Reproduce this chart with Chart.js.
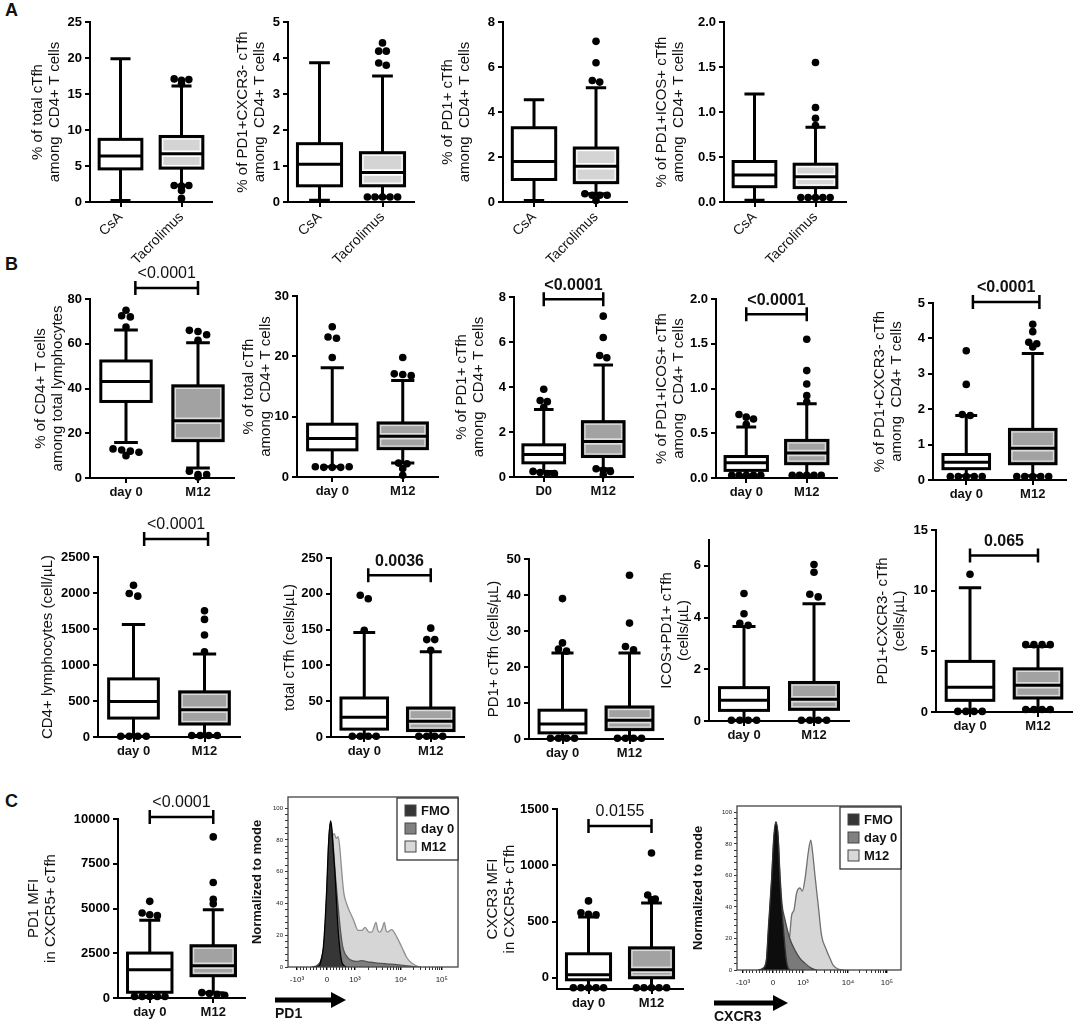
<!DOCTYPE html>
<html>
<head>
<meta charset="utf-8">
<script src="https://cdn.jsdelivr.net/npm/chart.js@4.4.0/dist/chart.umd.min.js"></script>
<style>
body{margin:0;background:#fff;width:1084px;height:1025px;position:relative;overflow:hidden;font-family:'Liberation Sans',Arial,sans-serif}
canvas{position:absolute}
.lab{position:absolute;font-weight:bold;font-size:18px;line-height:18px;color:#111}
</style>
</head>
<body>
<div class="lab" style="left:5px;top:1px">A</div>
<div class="lab" style="left:5px;top:255px">B</div>
<div class="lab" style="left:5px;top:792px">C</div>
<script>
//------------------ DATOS ------------------
// box stats are [min, q1, median, q3, max]
const catsA = ['CsA', 'Tacrolimus'];
const catsB = ['day 0', 'M12'];
const catsD0 = ['D0', 'M12'];

// A - CsA vs Tacrolimus
const a1Stats = [[0.2, 4.6, 6.4, 8.7, 19.9], [2.3, 4.7, 6.7, 9.1, 16.1]];
const a1Out = [[], [17.1, 16.9, 17.0, 16.4, 2.3, 2.2, 2.3, 1.6, 0.5]];
const a1Ticks = [0, 5, 10, 15, 20, 25];

const a2Stats = [[0.05, 0.45, 1.05, 1.62, 3.87], [0.14, 0.45, 0.82, 1.37, 3.5]];
const a2Out = [[], [4.42, 4.19, 4.19, 3.86, 3.8, 0.14, 0.14, 0.14, 0.14, 0.14]];
const a2Ticks = [0, 1, 2, 3, 4, 5];

const a3Stats = [[0.07, 1.0, 1.8, 3.3, 4.55], [0.37, 0.86, 1.59, 2.4, 5.08]];
const a3Out = [[], [7.14, 6.19, 5.4, 5.33, 0.37, 0.3, 0.3, 0.3, 0.07]];
const a3Ticks = [0, 2, 4, 6, 8];

const a4Stats = [[0.02, 0.17, 0.3, 0.45, 1.2], [0.05, 0.16, 0.28, 0.42, 0.83]];
const a4Out = [[], [1.55, 1.05, 0.93, 0.85, 0.05, 0.05, 0.05, 0.05, 0.05]];
const a4Ticks = [0, 0.5, 1.0, 1.5, 2.0];

// B - day 0 vs M12, frequencies
const b1Stats = [[15.9, 34.2, 43.1, 52.3, 66.2], [4.5, 16.7, 25.6, 41.2, 60.5]];
const b1Out = [[75, 72.5, 72, 67.5, 13, 12.5, 12, 11.5, 10], [66, 65.5, 64, 61.5, 3, 1.5, 1.5, 0.5]];
const b1Ticks = [0, 20, 40, 60, 80];

const b2Stats = [[1.7, 4.5, 6.4, 8.75, 18.1], [2.3, 4.7, 6.75, 8.96, 16.0]];
const b2Out = [[24.9, 23.2, 23.0, 19.8, 1.7, 1.6, 1.6, 1.6, 1.7], [19.8, 17.1, 17.0, 16.8, 2.3, 2.2, 1.4, 0.3]];
const b2Ticks = [0, 10, 20, 30];

const b3Stats = [[0.25, 0.63, 1.0, 1.43, 3.0], [0.37, 0.91, 1.58, 2.46, 4.98]];
const b3Out = [[3.9, 3.4, 3.35, 3.1, 0.25, 0.2, 0.15, 0.15], [7.15, 6.2, 5.4, 5.3, 0.37, 0.3, 0.25, 0.1]];
const b3Ticks = [0, 2, 4, 6, 8];

const b4Stats = [[0.03, 0.085, 0.17, 0.24, 0.57], [0.03, 0.16, 0.28, 0.42, 0.83]];
const b4Out = [[0.71, 0.68, 0.66, 0.6, 0.03, 0.03, 0.03, 0.03, 0.03], [1.55, 1.2, 1.05, 0.92, 0.85, 0.03, 0.03, 0.03, 0.03, 0.03]];
const b4Ticks = [0, 0.5, 1.0, 1.5, 2.0];

const b5Stats = [[0.12, 0.32, 0.5, 0.72, 1.82], [0.12, 0.46, 0.9, 1.43, 3.57]];
const b5Out = [[3.65, 2.7, 1.85, 1.82, 0.1, 0.1, 0.1, 0.1, 0.1], [4.4, 4.19, 3.89, 3.85, 3.76, 0.1, 0.1, 0.1, 0.1, 0.1]];
const b5Ticks = [0, 1, 2, 3, 4, 5];

// B - day 0 vs M12, absolute counts
const b6Stats = [[10, 263, 494, 807, 1564], [20, 180, 378, 627, 1153]];
const b6Out = [[2108, 1993, 1956, 10, 10, 10, 10], [1753, 1633, 1416, 1185, 20, 20, 20, 20]];
const b6Ticks = [0, 500, 1000, 1500, 2000, 2500];

const b7Stats = [[1, 11, 27.5, 54.5, 146], [1, 9, 22, 40.5, 119]];
const b7Out = [[198, 193, 149, 1, 1, 1, 1], [152, 136, 136, 121, 1, 1, 1, 1]];
const b7Ticks = [0, 50, 100, 150, 200, 250];

const b8Stats = [[0.2, 1.7, 4.2, 8.0, 23.9], [0.2, 2.6, 5.2, 8.9, 23.9]];
const b8Out = [[39, 26.7, 25, 24.4, 0.2, 0.2, 0.2, 0.2], [45.5, 32.2, 25.7, 24.8, 0.2, 0.2, 0.2, 0.2]];
const b8Ticks = [0, 10, 20, 30, 40, 50];

const b9Stats = [[0.03, 0.41, 0.8, 1.29, 3.65], [0.03, 0.45, 0.84, 1.49, 4.53]];
const b9Out = [[4.93, 4.15, 3.78, 3.7, 0.03, 0.03, 0.03, 0.03], [6.05, 5.75, 4.9, 4.8, 0.03, 0.03, 0.03, 0.03]];
const b9Ticks = [0, 2, 4, 6];

const b10Stats = [[0.05, 0.96, 2.05, 4.17, 10.25], [0.2, 1.15, 2.2, 3.56, 5.4]];
const b10Out = [[11.35, 0.05, 0.05, 0.05, 0.05], [5.55, 5.55, 5.55, 5.55, 0.2, 0.2, 0.2, 0.2]];
const b10Ticks = [0, 5, 10, 15];

// C - MFI
const c1Stats = [[80, 320, 1580, 2510, 4350], [300, 1245, 1800, 2920, 4925]];
const c1Out = [[5400, 4750, 4650, 4600, 80, 80, 80, 80, 80], [9000, 6450, 5520, 5260, 300, 250, 200, 150]];
const c1Ticks = [0, 2500, 5000, 7500, 10000];

const c3Stats = [[-89, -18, 27, 213, 541], [-89, 0, 71, 266, 665]];
const c3Out = [[683, 577, 565, 560, -89, -89, -89, -89, -89], [1109, 736, 700, 692, -89, -89, -89, -89, -89]];
const c3Ticks = [0, 500, 1000, 1500];

// C - histograms (x in display channel units, y in % of mode)
const histNames = ['FMO', 'day 0', 'M12'];
const histMarkers = ['PD1', 'CXCR3'];
const histTickLabels = ['-10³', '0', '10³', '10⁴', '10⁵'];
const pd1TickPos = [-1.07, 0, 1, 2.64, 4.1];
const cx3TickPos = [-1.0, 0, 1, 2.5, 3.8];
const histYTicks = [0, 20, 40, 60, 80, 100];

const pd1FmoX = [-0.45, -0.27, -0.2, -0.13, -0.06, -0.01, 0.05, 0.1, 0.13, 0.17, 0.22, 0.29, 0.35, 0.405, 0.47, 0.525, 0.6, 0.7];
const pd1FmoY = [0, 1, 5, 12, 30, 48, 75, 88, 92, 88, 75, 58, 38, 22, 10, 3.6, 1, 0];
const pd1D0X = [-0.55, -0.35, -0.2, -0.1, 0, 0.08, 0.13, 0.2, 0.3, 0.4, 0.46, 0.55, 0.64, 0.76, 0.9, 1.05, 1.24, 1.54, 1.8, 2.13, 2.5, 2.73, 3.08, 3.2];
const pd1D0Y = [0, 1, 5, 15, 48, 84, 90, 82, 58, 38, 27, 14, 8.6, 5.5, 4, 3.5, 4, 3, 2.5, 2, 1.5, 1, 0.3, 0];
const pd1M12X = [-0.5, -0.3, -0.15, -0.05, 0.05, 0.12, 0.2, 0.26, 0.33, 0.4, 0.46, 0.52, 0.6, 0.7, 0.94, 1.12, 1.25, 1.36, 1.5, 1.6, 1.68, 1.75, 1.82, 1.89, 1.97, 2.05, 2.11, 2.17, 2.31, 2.49, 2.67, 2.85, 3.02, 3.26, 3.35];
const pd1M12Y = [0, 1, 6, 20, 50, 72, 82, 84, 81, 82, 75, 62, 47, 40, 30, 23, 23, 25, 22, 22, 25, 28, 23, 22, 24, 28, 23, 22, 23.5, 19, 12.6, 6, 2.5, 0.3, 0];

const cx3FmoX = [-0.45, -0.32, -0.22, -0.156, -0.044, 0.03, 0.1, 0.17, 0.233, 0.344, 0.456, 0.533, 0.6];
const cx3FmoY = [0, 1, 6, 26, 58, 85, 94, 85, 58, 27, 5, 0.5, 0];
const cx3D0X = [-0.5, -0.35, -0.22, -0.15, -0.05, 0.03, 0.1, 0.17, 0.23, 0.3, 0.4, 0.56, 0.73, 0.9, 1.07, 1.29, 1.45];
const cx3D0Y = [0, 1, 6, 24, 55, 83, 92, 85, 62, 42, 32, 20, 12.6, 7.4, 4.2, 1, 0];
const cx3M12X = [0.1, 0.25, 0.4, 0.46, 0.56, 0.62, 0.7, 0.79, 0.9, 0.98, 1.07, 1.18, 1.26, 1.32, 1.4, 1.51, 1.62, 1.76, 1.9, 2.0, 2.18, 2.35];
const cx3M12Y = [0, 2, 8, 12, 22, 34.5, 38, 49, 52, 50, 58, 75, 82.3, 75, 60, 41, 22, 13.8, 7.4, 3.2, 0.6, 0];
//------------------ FIN DATOS ------------------

Chart.defaults.font.family = "'Liberation Sans', Arial, sans-serif";
Chart.defaults.color = '#000';
Chart.defaults.animation = false;
Chart.defaults.plugins.legend.display = false;
Chart.defaults.plugins.tooltip.enabled = false;

const FONT = "'Liberation Sans', Arial, sans-serif";
const TITLE_SIZE = 15, TITLE_LH = 1.15;
const fillA = ['#ffffff', '#d4d4d4'];
const fillB = ['#ffffff', '#a2a2a2'];

// spread equal-ish outliers side by side, like the original dot rows
function spread(vals, center, tol) {
    const pts = [];
    const used = vals.map(() => false);
    vals.forEach((v, i) => {
        if (used[i]) return;
        const grp = [];
        vals.forEach((w, j) => {
            if (!used[j] && Math.abs(w - v) <= tol) { used[j] = true; grp.push(w); }
        });
        grp.forEach((w, k) => pts.push({x: center + (k - (grp.length - 1) / 2) * 0.12, y: w}));
    });
    return pts;
}

function boxPlugin(p) {
    return {
        id: 'boxes',
        beforeDatasetsDraw(chart) {
            const ctx = chart.ctx, xs = chart.scales.x, ys = chart.scales.y;
            p.stats.forEach((s, i) => {
                const xc = xs.getPixelForValue(i + 1);
                const hw = xs.getPixelForValue(1.35) - xs.getPixelForValue(1);
                const cw = hw * 0.47;
                const [mn, q1, md, q3, mx] = s.map(v => ys.getPixelForValue(v));
                const fill = p.fills[i];
                ctx.save();
                ctx.strokeStyle = '#000';
                ctx.lineWidth = 3;
                ctx.beginPath();
                ctx.moveTo(xc, q3); ctx.lineTo(xc, mx);
                ctx.moveTo(xc - cw, mx); ctx.lineTo(xc + cw, mx);
                ctx.moveTo(xc, q1); ctx.lineTo(xc, mn);
                ctx.moveTo(xc - cw, mn); ctx.lineTo(xc + cw, mn);
                ctx.stroke();
                ctx.fillStyle = fill;
                ctx.fillRect(xc - hw, q3, 2 * hw, q1 - q3);
                if (fill !== '#ffffff') {
                    const hl = fill === '#d4d4d4' ? '#ffffff' : '#dcdcdc';
                    ctx.strokeStyle = hl;
                    ctx.lineWidth = 1.2;
                    ctx.strokeRect(xc - hw + 2.6, q3 + 2.6, 2 * hw - 5.2, q1 - q3 - 5.2);
                    ctx.lineWidth = 6.5;
                    ctx.beginPath(); ctx.moveTo(xc - hw + 2, md); ctx.lineTo(xc + hw - 2, md); ctx.stroke();
                    ctx.strokeStyle = '#000';
                }
                ctx.lineWidth = 3;
                ctx.strokeRect(xc - hw, q3, 2 * hw, q1 - q3);
                ctx.beginPath(); ctx.moveTo(xc - hw, md); ctx.lineTo(xc + hw, md); ctx.stroke();
                ctx.restore();
            });
        },
        afterDraw(chart) {
            const b = p.bracket;
            if (!b) return;
            const ctx = chart.ctx, xs = chart.scales.x, ys = chart.scales.y;
            const x1 = xs.getPixelForValue(b.x1), x2 = xs.getPixelForValue(b.x2), y = ys.getPixelForValue(b.y);
            ctx.save();
            ctx.strokeStyle = '#000';
            ctx.lineWidth = 2.5;
            ctx.beginPath();
            ctx.moveTo(x1, y); ctx.lineTo(x2, y);
            ctx.moveTo(x1, y - 7); ctx.lineTo(x1, y + 7);
            ctx.moveTo(x2, y - 7); ctx.lineTo(x2, y + 7);
            ctx.stroke();
            ctx.fillStyle = '#111';
            ctx.font = (b.bold ? 'bold ' : '') + '16px ' + FONT;
            ctx.textAlign = 'center';
            ctx.textBaseline = 'middle';
            ctx.fillText(b.text, (x1 + x2) / 2, y - 14);
            ctx.restore();
        }
    };
}

function makeBox(p) {
    const yW = Math.round(p.titleX + TITLE_SIZE * TITLE_LH / 2);
    const padT = p.bracket ? 44 : 12, padR = 6;
    const hx = p.rot ? 70 : 28;
    const w = p.xEnd - p.ax + yW + padR;
    const h = padT + (p.y0 - p.yTop) + hx;
    const cv = document.createElement('canvas');
    cv.width = w; cv.height = h;
    cv.style.width = w + 'px'; cv.style.height = h + 'px';
    cv.style.left = (p.ax - yW) + 'px';
    cv.style.top = (p.yTop - padT) + 'px';
    document.body.appendChild(cv);
    const tol = (p.max - p.min) * 0.025;
    const pts = [];
    p.out.forEach((vals, i) => pts.push(...spread(vals, i + 1, tol)));
    new Chart(cv, {
        type: 'scatter',
        data: {datasets: [{data: pts, pointRadius: 3.8, pointBackgroundColor: '#000', pointBorderWidth: 0, clip: false}]},
        options: {
            responsive: false,
            devicePixelRatio: 1,
            layout: {padding: {top: padT, right: padR, left: 0, bottom: 0}},
            scales: {
                x: {
                    type: 'linear', min: 0.5, max: 2.5,
                    afterBuildTicks: s => { s.ticks = [{value: 1}, {value: 2}]; },
                    afterFit: s => { s.height = hx; },
                    ticks: {
                        callback: v => p.cats[v - 1],
                        autoSkip: false,
                        maxRotation: p.rot ? 45 : 0, minRotation: p.rot ? 45 : 0,
                        padding: 2,
                        color: '#111',
                        font: {size: p.rot ? 14 : 13, weight: p.rot ? 'normal' : 'bold'}
                    },
                    grid: {drawOnChartArea: false, tickLength: 5, color: '#000', lineWidth: 2},
                    border: {color: '#000', width: 2}
                },
                y: {
                    min: p.min, max: p.max,
                    afterBuildTicks: s => { s.ticks = p.ticks.map(v => ({value: v})); },
                    afterFit: s => { s.width = yW; },
                    ticks: {
                        callback: v => v.toFixed(p.dec || 0),
                        padding: 3,
                        color: '#000',
                        font: {size: 13, weight: 'bold'}
                    },
                    grid: {drawOnChartArea: false, tickLength: 5, color: '#000', lineWidth: 2},
                    border: {color: '#000', width: 2},
                    title: {display: true, text: p.title, color: '#111', padding: 0, font: {size: TITLE_SIZE, lineHeight: TITLE_LH}}
                }
            }
        },
        plugins: [boxPlugin(p)]
    });
}

const panels = [
    {ax: 90, xEnd: 212, yTop: 22, y0: 202, min: 0, max: 25, ticks: a1Ticks, cats: catsA, rot: true, stats: a1Stats, out: a1Out, fills: fillA,
     title: ['% of total cTfh', 'among  CD4+ T cells'], titleX: 52},
    {ax: 288, xEnd: 414, yTop: 22, y0: 202, min: 0, max: 5, ticks: a2Ticks, cats: catsA, rot: true, stats: a2Stats, out: a2Out, fills: fillA,
     title: ['% of PD1+CXCR3- cTfh', 'among  CD4+ T cells'], titleX: 45},
    {ax: 503, xEnd: 627, yTop: 22, y0: 202, min: 0, max: 8, ticks: a3Ticks, cats: catsA, rot: true, stats: a3Stats, out: a3Out, fills: fillA,
     title: ['% of PD1+ cTfh', 'among  CD4+ T cells'], titleX: 55},
    {ax: 724, xEnd: 846, yTop: 22, y0: 202, min: 0, max: 2, dec: 1, ticks: a4Ticks, cats: catsA, rot: true, stats: a4Stats, out: a4Out, fills: fillA,
     title: ['% of PD1+ICOS+ cTfh', 'among  CD4+ T cells'], titleX: 62},

    {ax: 90, xEnd: 234, yTop: 299, y0: 478, min: 0, max: 80, ticks: b1Ticks, cats: catsB, stats: b1Stats, out: b1Out, fills: fillB,
     title: ['% of CD4+ T cells', 'among total lymphocytes'], titleX: 49,
     bracket: {x1: 1.13, x2: 2, y: 84.9, text: '<0.0001', bold: false}},
    {ax: 297, xEnd: 438, yTop: 296, y0: 477, min: 0, max: 30, ticks: b2Ticks, cats: catsB, stats: b2Stats, out: b2Out, fills: fillB,
     title: ['% of total cTfh', 'among  CD4+ T cells'], titleX: 48},
    {ax: 514, xEnd: 633, yTop: 297, y0: 477, min: 0, max: 8, ticks: b3Ticks, cats: catsD0, stats: b3Stats, out: b3Out, fills: fillB,
     title: ['% of PD1+ cTfh', 'among  CD4+ T cells'], titleX: 52,
     bracket: {x1: 1, x2: 2, y: 7.9, text: '<0.0001', bold: true}},
    {ax: 716, xEnd: 837, yTop: 299, y0: 478, min: 0, max: 2, dec: 1, ticks: b4Ticks, cats: catsB, stats: b4Stats, out: b4Out, fills: fillB,
     title: ['% of PD1+ICOS+ cTfh', 'among  CD4+ T cells'], titleX: 54,
     bracket: {x1: 1, x2: 2, y: 1.83, text: '<0.0001', bold: true}},
    {ax: 933, xEnd: 1066, yTop: 303, y0: 480, min: 0, max: 5, ticks: b5Ticks, cats: catsB, stats: b5Stats, out: b5Out, fills: fillB,
     title: ['% of PD1+CXCR3- cTfh', 'among  CD4+ T cells'], titleX: 53,
     bracket: {x1: 1.1, x2: 2.1, y: 5.03, text: '<0.0001', bold: true}},

    {ax: 98, xEnd: 240, yTop: 557, y0: 737, min: 0, max: 2500, ticks: b6Ticks, cats: catsB, stats: b6Stats, out: b6Out, fills: fillB,
     title: ['CD4+ lymphocytes (cell/µL)'], titleX: 50,
     bracket: {x1: 1.15, x2: 2.05, y: 2750, text: '<0.0001', bold: false}},
    {ax: 331, xEnd: 464, yTop: 558, y0: 737, min: 0, max: 250, ticks: b7Ticks, cats: catsB, stats: b7Stats, out: b7Out, fills: fillB,
     title: ['total cTfh (cells/µL)'], titleX: 41,
     bracket: {x1: 1.06, x2: 2, y: 226, text: '0.0036', bold: true}},
    {ax: 529, xEnd: 663, yTop: 559, y0: 739, min: 0, max: 50, ticks: b8Ticks, cats: catsB, stats: b8Stats, out: b8Out, fills: fillB,
     title: ['PD1+ cTfh (cells/µL)'], titleX: 35},
    {ax: 709, xEnd: 849, yTop: 540, y0: 721, min: 0, max: 7, ticks: b9Ticks, cats: catsB, stats: b9Stats, out: b9Out, fills: fillB,
     title: ['ICOS+PD1+ cTfh', '(cells/µL)'], titleX: 42},
    {ax: 936, xEnd: 1072, yTop: 530, y0: 712, min: 0, max: 15, ticks: b10Ticks, cats: catsB, stats: b10Stats, out: b10Out, fills: fillB,
     title: ['PD1+CXCR3- cTfh', '(cells/µL)'], titleX: 53,
     bracket: {x1: 1, x2: 2, y: 12.9, text: '0.065', bold: true}},

    {ax: 118, xEnd: 245, yTop: 819, y0: 998, min: 0, max: 10000, ticks: c1Ticks, cats: catsB, stats: c1Stats, out: c1Out, fills: fillB,
     title: ['PD1 MFI', 'in CXCR5+ cTfh'], titleX: 84,
     bracket: {x1: 1, x2: 2, y: 10110, text: '<0.0001', bold: false}},
    {ax: 557, xEnd: 683, yTop: 809, y0: 989, min: -100, max: 1500, ticks: c3Ticks, cats: catsB, stats: c3Stats, out: c3Out, fills: fillB,
     title: ['CXCR3 MFI', 'in CXCR5+ cTfh'], titleX: 64,
     bracket: {x1: 1, x2: 2, y: 1349, text: '0.0155', bold: false}}
];
panels.forEach(makeBox);

//------------------ HISTOGRAMAS ------------------
function histTicks(pos) {
    const t = [];
    pos.forEach((v, i) => {
        t.push({value: v, lbl: histTickLabels[i]});
        if (i === pos.length - 1) return;
        const v1 = pos[i + 1];
        for (let k = 2; k <= 9; k++) {
            const f = i < 2 ? (k - 1) / 9 : Math.log10(k);
            t.push({value: v + f * (v1 - v), lbl: ''});
        }
    });
    return t.sort((a, b) => a.value - b.value);
}

function histPlugin(h) {
    return {
        id: 'histdeco',
        afterDraw(chart) {
            const ctx = chart.ctx, ca = chart.chartArea;
            ctx.save();
            ctx.strokeStyle = '#444';
            ctx.lineWidth = 1.3;
            ctx.strokeRect(ca.left, ca.top, ca.right - ca.left, ca.bottom - ca.top);
            // leyenda
            const lw = 61, lh = 62;
            const lx = ca.right - lw, ly = ca.top + 1;
            ctx.fillStyle = '#fff';
            ctx.fillRect(lx, ly, lw, lh);
            ctx.strokeStyle = '#333';
            ctx.strokeRect(lx, ly, lw, lh);
            histNames.forEach((n, i) => {
                const cy = ly + 13 + i * 18;
                ctx.fillStyle = h.swatch[i];
                ctx.fillRect(lx + 8, cy - 6, 11, 11);
                ctx.strokeStyle = '#444';
                ctx.lineWidth = 1;
                ctx.strokeRect(lx + 8, cy - 6, 11, 11);
                ctx.fillStyle = '#111';
                ctx.font = 'bold 13px ' + FONT;
                ctx.textAlign = 'left';
                ctx.textBaseline = 'middle';
                ctx.fillText(n, lx + 24, cy);
            });
            // flecha del marcador
            const ax0 = ca.left + h.arrow[0], ax1 = ca.left + h.arrow[1], ay = ca.bottom + 33;
            ctx.fillStyle = '#000';
            ctx.fillRect(ax0, ay - 2.5, ax1 - ax0 - 14, 5);
            ctx.beginPath();
            ctx.moveTo(ax1 - 15, ay - 8); ctx.lineTo(ax1, ay); ctx.lineTo(ax1 - 15, ay + 8);
            ctx.closePath(); ctx.fill();
            ctx.fillStyle = '#111';
            ctx.font = 'bold 14px ' + FONT;
            ctx.textAlign = 'left';
            ctx.textBaseline = 'middle';
            ctx.fillText(h.marker, ax0, ca.bottom + 47);
            ctx.restore();
        }
    };
}

function makeHist(h) {
    const padT = 12, padR = 4;
    const yW = h.frameL - h.cvL;
    const hx = 1025 - h.frameB;
    const w = h.frameR - h.cvL + padR;
    const ht = padT + (h.frameB - h.frameT) + hx;
    const cv = document.createElement('canvas');
    cv.width = w; cv.height = ht;
    cv.style.width = w + 'px'; cv.style.height = ht + 'px';
    cv.style.left = h.cvL + 'px';
    cv.style.top = (h.frameT - padT) + 'px';
    document.body.appendChild(cv);
    const yT = [];
    for (let v = 0; v <= 100; v += 4) yT.push({value: v});
    new Chart(cv, {
        type: 'scatter',
        data: {
            datasets: h.series.map((s, i) => ({
                label: histNames[i],
                data: s[0].map((x, k) => ({x: x, y: s[1][k]})),
                showLine: true,
                fill: 'origin',
                backgroundColor: h.fills[i],
                borderColor: h.lines[i],
                borderWidth: 1.3,
                pointRadius: 0,
                cubicInterpolationMode: 'monotone'
            }))
        },
        options: {
            responsive: false,
            devicePixelRatio: 1,
            layout: {padding: {top: padT, right: padR, left: 0, bottom: 0}},
            scales: {
                x: {
                    type: 'linear', min: h.xmin, max: h.xmax,
                    afterBuildTicks: s => { s.ticks = histTicks(h.tickPos); },
                    afterFit: s => { s.height = hx; },
                    ticks: {callback: (v, i, t) => t[i].lbl, autoSkip: false, maxRotation: 0, padding: 5, color: '#222', font: {size: 8}},
                    grid: {drawOnChartArea: false, tickLength: 3, color: '#000', lineWidth: c => (c.tick && c.tick.lbl ? 1.4 : 0.8)},
                    border: {display: false}
                },
                y: {
                    min: 0, max: h.ymax,
                    afterBuildTicks: s => { s.ticks = yT; },
                    afterFit: s => { s.width = yW; },
                    ticks: {callback: v => (histYTicks.includes(v) ? v : ''), autoSkip: false, padding: 2, color: '#222', font: {size: 6}},
                    grid: {drawOnChartArea: false, tickLength: 3, color: '#000', lineWidth: 0.8},
                    border: {display: false},
                    title: {display: true, text: 'Normalized to mode', color: '#111', padding: 0, font: {size: 13, weight: 'bold', lineHeight: 1.2}}
                }
            }
        },
        plugins: [histPlugin(h)]
    });
}

makeHist({
    cvL: 250, frameL: 288, frameR: 458, frameT: 797, frameB: 967, ymax: 107,
    xmin: -1.39, xmax: 4.68, tickPos: pd1TickPos, marker: histMarkers[0], arrow: [-13, 58],
    series: [[pd1FmoX, pd1FmoY], [pd1D0X, pd1D0Y], [pd1M12X, pd1M12Y]],
    fills: ['#363636', '#7f7f7f', '#d6d6d6'],
    lines: ['#000000', '#555555', '#8f8f8f'],
    swatch: ['#363636', '#808080', '#d8d8d8']
});
makeHist({
    cvL: 691, frameL: 737, frameR: 901, frameT: 806, frameB: 970, ymax: 104,
    xmin: -1.2, xmax: 4.27, tickPos: cx3TickPos, marker: histMarkers[1], arrow: [-23, 51],
    series: [[cx3FmoX, cx3FmoY], [cx3D0X, cx3D0Y], [cx3M12X, cx3M12Y]],
    fills: ['#0d0d0d', '#7a7a7a', '#d6d6d6'],
    lines: ['#333333', '#4a4a4a', '#707070'],
    swatch: ['#363636', '#808080', '#d8d8d8']
});
</script>
</body>
</html>
